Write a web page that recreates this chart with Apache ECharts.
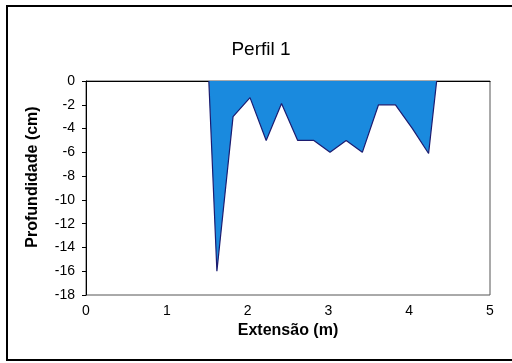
<!DOCTYPE html>
<html lang="pt">
<head>
    <meta charset="UTF-8">
    <title>Perfil 1</title>
    <script src="https://cdn.jsdelivr.net/npm/echarts@6/dist/echarts.min.js"></script>
    <style>
        html, body { margin: 0; padding: 0; background: #fff; }
        #box { width: 512px; height: 363px; }
    </style>
</head>
<body>
    <div id="box"></div>
    <script>
        // extensão (m) e profundidade (cm)
        const extensao = [1.52, 1.62, 1.82, 2.03, 2.23, 2.42, 2.62, 2.82, 3.02, 3.22, 3.42, 3.62, 3.83, 4.04, 4.24, 4.34]
        const profundidade = [0, -16, -3, -1.4, -5, -1.9, -5, -5, -6, -5, -6, -2, -2, -4, -6.1, 0]
        const xTicks = [0, 1, 2, 3, 4, 5]
        const yTicks = [0, -2, -4, -6, -8, -10, -12, -14, -16, -18]

        const font = 'Liberation Sans, Arial, sans-serif'
        var myChart = echarts.init(document.getElementById('box'))
        var option = {
            animation: false,
            title: {
                text: 'Perfil 1',
                left: 256,
                top: 35,
                textAlign: 'center',
                textStyle: { fontFamily: font, fontSize: 19, fontWeight: 'normal', color: '#000' }
            },
            // moldura externa
            graphic: [{
                type: 'rect',
                shape: { x: 7, y: 6, width: 520, height: 354 },
                style: { fill: 'none', stroke: '#000', lineWidth: 2 },
                silent: true
            }],
            grid: {
                left: 86, top: 81, width: 404, height: 214,
                show: true, borderColor: '#555', borderWidth: 1
            },
            xAxis: {
                type: 'value',
                min: xTicks[0],
                max: xTicks[xTicks.length - 1],
                interval: 1,
                name: 'Extensão (m)',
                nameLocation: 'middle',
                nameGap: 28,
                nameTextStyle: { fontFamily: font, fontSize: 16, fontWeight: 'bold', color: '#000' },
                axisLine: { lineStyle: { color: '#000', width: 1 } },
                axisTick: { show: false },
                splitLine: { show: false },
                axisLabel: { fontFamily: font, fontSize: 14, color: '#000', margin: 9 }
            },
            yAxis: {
                type: 'value',
                min: yTicks[yTicks.length - 1],
                max: yTicks[0],
                interval: 2,
                name: 'Profundidade (cm)',
                nameLocation: 'middle',
                nameGap: 45,
                nameTextStyle: { fontFamily: font, fontSize: 16, fontWeight: 'bold', color: '#000', padding: [0, 0, 0, 22] },
                axisLine: { show: true, lineStyle: { color: '#000', width: 1 } },
                axisTick: { show: true, inside: false, length: 4, lineStyle: { color: '#000' } },
                splitLine: { show: false },
                axisLabel: { fontFamily: font, fontSize: 14, color: '#000', margin: 11 }
            },
            series: [{
                type: 'line',
                data: extensao.map((x, i) => [x, profundidade[i]]),
                symbol: 'none',
                lineStyle: { color: '#1c1c70', width: 1.2 },
                areaStyle: { color: '#1a8ade', opacity: 1 }
            }]
        }
        myChart.setOption(option)
    </script>
</body>
</html>
